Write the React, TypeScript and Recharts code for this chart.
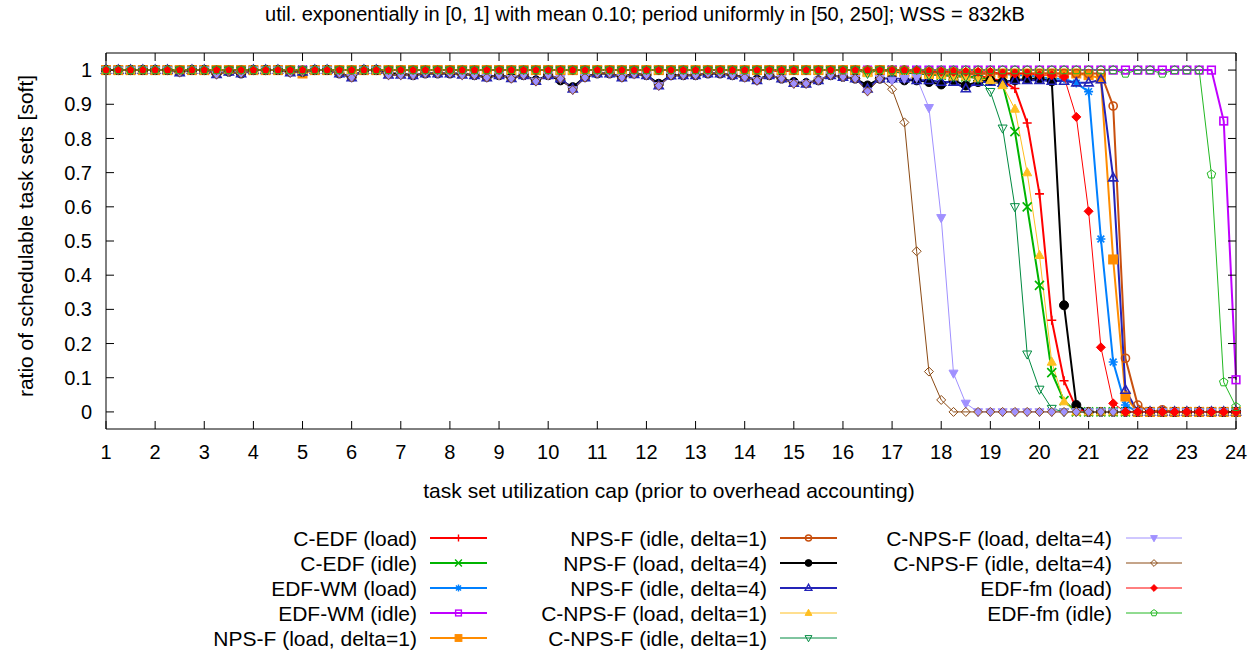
import { LineChart, Line, XAxis, YAxis } from 'recharts';

const FONT = '"Liberation Sans", Arial, Helvetica, sans-serif';

// x: task set utilization cap, sampled every 0.25
const utilCap = [
  1, 1.25, 1.5, 1.75, 2, 2.25, 2.5, 2.75, 3, 3.25, 3.5, 3.75,
  4, 4.25, 4.5, 4.75, 5, 5.25, 5.5, 5.75, 6, 6.25, 6.5, 6.75,
  7, 7.25, 7.5, 7.75, 8, 8.25, 8.5, 8.75, 9, 9.25, 9.5, 9.75,
  10, 10.25, 10.5, 10.75, 11, 11.25, 11.5, 11.75, 12, 12.25, 12.5, 12.75,
  13, 13.25, 13.5, 13.75, 14, 14.25, 14.5, 14.75, 15, 15.25, 15.5, 15.75,
  16, 16.25, 16.5, 16.75, 17, 17.25, 17.5, 17.75, 18, 18.25, 18.5, 18.75,
  19, 19.25, 19.5, 19.75, 20, 20.25, 20.5, 20.75, 21, 21.25, 21.5, 21.75,
  22, 22.25, 22.5, 22.75, 23, 23.25, 23.5, 23.75, 24,
];

const cedfLoad = [
  1, 1, 1, 1, 1, 1, 1, 1, 1, 1, 1, 1,
  1, 1, 1, 1, 1, 1, 1, 1, 1, 1, 1, 1,
  1, 1, 1, 1, 1, 1, 1, 1, 1, 1, 1, 1,
  1, 1, 1, 1, 1, 1, 1, 1, 1, 1, 1, 1,
  1, 1, 1, 1, 1, 1, 1, 0.995, 1, 1, 1, 1,
  1, 1, 0.995, 1, 1, 1, 0.995, 0.99, 0.99, 0.99, 0.99, 0.985,
  0.975, 0.968, 0.946, 0.845, 0.638, 0.268, 0.091, 0.01, 0, 0, 0, 0,
  0, 0, 0, 0, 0, 0, 0, 0, 0,
];

const cedfIdle = [
  1, 1, 1, 1, 1, 1, 1, 1, 1, 1, 1, 1,
  1, 1, 1, 1, 1, 1, 1, 1, 1, 1, 1, 1,
  1, 1, 1, 1, 1, 1, 1, 1, 1, 1, 1, 1,
  1, 1, 1, 1, 1, 1, 1, 1, 1, 1, 1, 1,
  1, 1, 1, 1, 1, 1, 1, 1, 1, 1, 1, 1,
  1, 1, 0.995, 1, 1, 0.995, 0.99, 0.99, 0.985, 0.985, 0.98, 0.98,
  0.97, 0.959, 0.82, 0.6, 0.37, 0.115, 0.033, 0, 0, 0, 0, 0,
  0, 0, 0, 0, 0, 0, 0, 0, 0,
];

const edfwmLoad = [
  1, 1, 1, 1, 1, 1, 1, 1, 1, 1, 1, 1,
  1, 1, 1, 1, 1, 1, 1, 1, 1, 1, 1, 1,
  1, 1, 1, 1, 1, 1, 1, 1, 1, 1, 1, 1,
  1, 1, 1, 1, 1, 1, 1, 1, 1, 1, 1, 1,
  1, 1, 1, 1, 1, 1, 1, 1, 1, 1, 1, 1,
  1, 1, 1, 1, 1, 0.995, 1, 0.995, 0.995, 0.99, 0.99, 0.99,
  0.99, 0.99, 0.985, 0.985, 0.98, 0.975, 0.975, 0.962, 0.937, 0.506, 0.146, 0.02,
  0, 0, 0, 0, 0, 0, 0, 0, 0,
];

const edfwmIdle = [
  1, 1, 1, 1, 1, 1, 1, 1, 1, 1, 1, 1,
  1, 1, 1, 1, 1, 1, 1, 1, 1, 1, 1, 1,
  1, 1, 1, 1, 1, 1, 1, 1, 1, 1, 1, 1,
  1, 1, 1, 1, 1, 1, 1, 1, 1, 1, 1, 1,
  1, 1, 1, 1, 1, 1, 1, 1, 1, 1, 1, 1,
  1, 1, 1, 1, 1, 1, 1, 1, 1, 1, 1, 1,
  1, 1, 1, 1, 1, 1, 1, 1, 1, 1, 1, 1,
  1, 1, 1, 1, 1, 1, 1, 0.851, 0.094,
];

const npsfLoad1 = [
  1, 1, 1, 1, 1, 1, 1, 1, 1, 1, 1, 1,
  1, 1, 1, 1, 0.99, 1, 1, 1, 1, 1, 1, 1,
  1, 1, 1, 1, 1, 1, 1, 1, 1, 1, 1, 1,
  1, 1, 1, 1, 1, 1, 1, 1, 1, 1, 1, 1,
  1, 1, 1, 1, 1, 1, 1, 1, 1, 1, 1, 1,
  1, 1, 0.995, 1, 0.995, 0.995, 0.99, 0.99, 0.99, 0.99, 0.99, 0.99,
  0.99, 0.99, 0.99, 0.99, 0.99, 0.99, 0.99, 0.99, 0.985, 0.976, 0.446, 0.045,
  0, 0, 0, 0, 0, 0, 0, 0, 0,
];

const npsfIdle1 = [
  1, 1, 1, 1, 1, 1, 1, 1, 1, 1, 1, 1,
  1, 1, 1, 1, 1, 1, 1, 1, 1, 1, 1, 1,
  1, 1, 1, 1, 1, 1, 1, 1, 1, 1, 1, 1,
  1, 1, 1, 1, 1, 1, 1, 1, 1, 1, 1, 1,
  1, 1, 1, 1, 1, 1, 1, 1, 1, 1, 1, 1,
  1, 1, 1, 1, 1, 1, 0.995, 0.995, 0.995, 0.995, 0.99, 0.99,
  0.99, 0.99, 0.99, 0.99, 0.99, 0.99, 0.99, 0.99, 0.99, 0.99, 0.895, 0.157,
  0.02, 0, 0.006, 0, 0, 0, 0, 0, 0,
];

const npsfLoad4 = [
  1, 1, 1, 1, 1, 1, 0.995, 1, 1, 0.99, 0.995, 0.99,
  1, 1, 1, 0.995, 0.995, 1, 1, 0.99, 0.98, 1, 1, 0.99,
  0.99, 0.985, 0.99, 0.99, 0.99, 0.99, 0.985, 0.98, 0.985, 0.978, 0.985, 0.97,
  0.985, 0.97, 0.95, 0.98, 0.99, 0.99, 0.98, 0.99, 0.985, 0.96, 0.985, 0.985,
  0.985, 0.99, 0.99, 0.985, 0.98, 0.972, 0.985, 0.975, 0.965, 0.962, 0.97, 0.985,
  0.98, 0.975, 0.955, 0.975, 0.975, 0.97, 0.97, 0.965, 0.958, 0.97, 0.955, 0.965,
  0.97, 0.965, 0.97, 0.975, 0.975, 0.967, 0.312, 0.02, 0, 0, 0, 0,
  0, 0, 0, 0, 0, 0, 0, 0, 0,
];

const npsfIdle4 = [
  1, 1, 1, 1, 1, 1, 0.993, 1, 1, 0.988, 0.995, 0.99,
  1, 1, 1, 0.993, 0.995, 1, 1, 0.99, 0.978, 1, 1, 0.986,
  0.986, 0.985, 0.99, 0.99, 0.99, 0.986, 0.985, 0.978, 0.985, 0.976, 0.985, 0.968,
  0.985, 0.975, 0.945, 0.978, 0.99, 0.99, 0.978, 0.988, 0.985, 0.955, 0.984, 0.985,
  0.985, 0.99, 0.99, 0.985, 0.978, 0.97, 0.985, 0.975, 0.962, 0.96, 0.97, 0.985,
  0.98, 0.975, 0.945, 0.975, 0.975, 0.975, 0.97, 0.97, 0.965, 0.965, 0.946, 0.965,
  0.965, 0.962, 0.97, 0.97, 0.97, 0.968, 0.968, 0.963, 0.963, 0.972, 0.685, 0.064,
  0, 0, 0, 0, 0, 0, 0, 0, 0,
];

const cnpsfLoad1 = [
  1, 1, 1, 1, 1, 1, 1, 1, 1, 1, 1, 1,
  1, 1, 1, 1, 1, 1, 1, 1, 1, 1, 1, 1,
  1, 1, 1, 1, 1, 1, 1, 1, 1, 1, 1, 1,
  1, 1, 1, 1, 1, 1, 1, 1, 1, 1, 1, 1,
  1, 1, 1, 1, 1, 1, 1, 1, 1, 1, 1, 1,
  1, 1, 0.99, 1, 0.995, 0.99, 0.99, 0.985, 0.985, 0.98, 0.98, 0.975,
  0.97, 0.955, 0.886, 0.7, 0.458, 0.146, 0.03, 0, 0, 0, 0, 0,
  0, 0, 0, 0, 0, 0, 0, 0, 0,
];

const cnpsfIdle1 = [
  1, 1, 1, 1, 1, 1, 1, 1, 1, 1, 1, 1,
  1, 1, 1, 1, 1, 1, 1, 1, 1, 1, 1, 1,
  1, 1, 1, 1, 1, 1, 1, 1, 1, 1, 1, 1,
  1, 1, 1, 1, 1, 1, 1, 1, 1, 1, 1, 1,
  1, 1, 1, 1, 1, 1, 1, 1, 1, 1, 1, 1,
  1, 1, 0.99, 1, 0.995, 0.99, 0.99, 0.985, 0.985, 0.98, 0.98, 0.975,
  0.937, 0.83, 0.6, 0.169, 0.066, 0.01, 0, 0, 0, 0, 0, 0,
  0, 0, 0, 0, 0, 0, 0, 0, 0,
];

const cnpsfLoad4 = [
  1, 1, 1, 1, 1, 1, 0.993, 1, 1, 0.987, 0.995, 0.99,
  1, 1, 1, 0.992, 0.995, 1, 1, 0.99, 0.978, 1, 1, 0.985,
  0.985, 0.985, 0.99, 0.99, 0.99, 0.985, 0.985, 0.978, 0.985, 0.975, 0.985, 0.967,
  0.985, 0.975, 0.942, 0.978, 0.99, 0.99, 0.978, 0.988, 0.985, 0.954, 0.984, 0.985,
  0.985, 0.99, 0.99, 0.985, 0.978, 0.969, 0.985, 0.975, 0.96, 0.96, 0.97, 0.985,
  0.98, 0.975, 0.938, 0.975, 0.97, 0.975, 0.978, 0.89, 0.568, 0.113, 0.025, 0,
  0, 0, 0, 0, 0, 0, 0, 0, 0, 0, 0, 0,
  0, 0, 0, 0, 0, 0, 0, 0, 0,
];

const cnpsfIdle4 = [
  1, 1, 1, 1, 1, 1, 0.993, 1, 1, 0.987, 0.995, 0.99,
  1, 1, 1, 0.992, 0.995, 1, 1, 0.99, 0.978, 1, 1, 0.985,
  0.985, 0.985, 0.99, 0.99, 0.99, 0.985, 0.985, 0.978, 0.985, 0.975, 0.985, 0.967,
  0.985, 0.975, 0.942, 0.978, 0.99, 0.99, 0.978, 0.988, 0.985, 0.954, 0.984, 0.985,
  0.985, 0.99, 0.99, 0.985, 0.978, 0.969, 0.985, 0.975, 0.96, 0.96, 0.97, 0.985,
  0.98, 0.975, 0.938, 0.974, 0.944, 0.847, 0.47, 0.118, 0.035, 0, 0, 0,
  0, 0, 0, 0, 0, 0, 0, 0, 0, 0, 0, 0,
  0, 0, 0, 0, 0, 0, 0, 0, 0,
];

const edffmLoad = [
  1, 1, 1, 1, 1, 1, 1, 1, 1, 1, 1, 1,
  1, 1, 1, 1, 1, 1, 1, 1, 1, 1, 1, 1,
  1, 1, 1, 1, 1, 1, 1, 1, 1, 1, 1, 1,
  1, 1, 1, 1, 1, 1, 1, 1, 1, 1, 1, 1,
  1, 1, 1, 1, 1, 1, 1, 1, 1, 1, 1, 1,
  1, 1, 1, 1, 1, 1, 1, 0.995, 0.995, 0.995, 0.995, 0.995,
  0.995, 0.99, 0.99, 0.99, 0.985, 0.985, 0.98, 0.863, 0.587, 0.189, 0.025, 0,
  0, 0, 0, 0, 0, 0, 0, 0, 0,
];

const edffmIdle = [
  1, 1, 1, 1, 1, 1, 1, 1, 1, 1, 1, 1,
  1, 1, 1, 1, 1, 1, 1, 1, 1, 1, 1, 1,
  1, 1, 1, 1, 1, 1, 1, 1, 1, 1, 1, 1,
  1, 1, 1, 1, 1, 1, 1, 1, 1, 1, 1, 1,
  1, 1, 1, 1, 1, 1, 1, 1, 1, 1, 1, 1,
  1, 1, 1, 1, 1, 1, 1, 1, 1, 1, 1, 1,
  1, 1, 1, 1, 1, 1, 1, 1, 1, 1, 1, 0.99,
  1, 1, 0.99, 1, 1, 1, 0.695, 0.087, 0.015,
];

const xTicks = [1, 2, 3, 4, 5, 6, 7, 8, 9, 10, 11, 12, 13, 14, 15, 16, 17, 18, 19, 20, 21, 22, 23, 24];
const yTicks = [0, 0.1, 0.2, 0.3, 0.4, 0.5, 0.6, 0.7, 0.8, 0.9, 1];

const series = [
  { key: 'cedfLoad', name: 'C-EDF (load)', values: cedfLoad, color: '#ff0000', shape: 'plus', width: 2 },
  { key: 'cedfIdle', name: 'C-EDF (idle)', values: cedfIdle, color: '#00b400', shape: 'cross', width: 2 },
  { key: 'edfwmLoad', name: 'EDF-WM (load)', values: edfwmLoad, color: '#0080ff', shape: 'star', width: 2 },
  { key: 'edfwmIdle', name: 'EDF-WM (idle)', values: edfwmIdle, color: '#c000ff', shape: 'square', width: 2 },
  { key: 'npsfLoad1', name: 'NPS-F (load, delta=1)', values: npsfLoad1, color: '#ff8c00', shape: 'squareFilled', width: 2 },
  { key: 'npsfIdle1', name: 'NPS-F (idle, delta=1)', values: npsfIdle1, color: '#c8500f', shape: 'circle', width: 2 },
  { key: 'npsfLoad4', name: 'NPS-F (load, delta=4)', values: npsfLoad4, color: '#000000', shape: 'circleFilled', width: 2 },
  { key: 'npsfIdle4', name: 'NPS-F (idle, delta=4)', values: npsfIdle4, color: '#2424b8', shape: 'triUp', width: 2 },
  { key: 'cnpsfLoad1', name: 'C-NPS-F (load, delta=1)', values: cnpsfLoad1, color: '#ffbf20', shape: 'triUpFilled', width: 1 },
  { key: 'cnpsfIdle1', name: 'C-NPS-F (idle, delta=1)', values: cnpsfIdle1, color: '#008a40', shape: 'triDown', width: 1 },
  { key: 'cnpsfLoad4', name: 'C-NPS-F (load, delta=4)', values: cnpsfLoad4, color: '#a090ff', shape: 'triDownFilled', width: 1 },
  { key: 'cnpsfIdle4', name: 'C-NPS-F (idle, delta=4)', values: cnpsfIdle4, color: '#8b4a14', shape: 'diamond', width: 1 },
  { key: 'edffmLoad', name: 'EDF-fm (load)', values: edffmLoad, color: '#ff0000', shape: 'diamondFilled', width: 1 },
  { key: 'edffmIdle', name: 'EDF-fm (idle)', values: edffmIdle, color: '#22b822', shape: 'pentagon', width: 1 },
];

const chartData = utilCap.map((x, i) => {
  const row: Record<string, number> = { x };
  series.forEach((s) => { row[s.key] = s.values[i]; });
  return row;
});

function Marker({ x, y, shape, color, sw, s }: { x: number; y: number; shape: string; color: string; sw: number; s: number }) {
  const open = { fill: 'none', stroke: color, strokeWidth: sw };
  const filled = { fill: color, stroke: color, strokeWidth: 1 };
  switch (shape) {
    case 'plus':
      return <path d={`M${x - s},${y}H${x + s}M${x},${y - s}V${y + s}`} {...open} />;
    case 'cross':
      return <path d={`M${x - s},${y - s}L${x + s},${y + s}M${x - s},${y + s}L${x + s},${y - s}`} {...open} />;
    case 'star':
      return <path d={`M${x - s},${y}H${x + s}M${x},${y - s}V${y + s}M${x - s * 0.75},${y - s * 0.75}L${x + s * 0.75},${y + s * 0.75}M${x - s * 0.75},${y + s * 0.75}L${x + s * 0.75},${y - s * 0.75}`} {...open} />;
    case 'square':
      return <rect x={x - s * 0.85} y={y - s * 0.85} width={s * 1.7} height={s * 1.7} {...open} />;
    case 'squareFilled':
      return <rect x={x - s} y={y - s} width={s * 2} height={s * 2} {...filled} />;
    case 'circle':
      return <circle cx={x} cy={y} r={s * 0.9} {...open} />;
    case 'circleFilled':
      return <circle cx={x} cy={y} r={s} {...filled} />;
    case 'triUp':
    case 'triUpFilled':
      return <polygon points={`${x},${y - s * 1.1} ${x - s},${y + s * 0.7} ${x + s},${y + s * 0.7}`} {...(shape === 'triUp' ? open : filled)} />;
    case 'triDown':
    case 'triDownFilled':
      return <polygon points={`${x},${y + s * 1.1} ${x - s},${y - s * 0.7} ${x + s},${y - s * 0.7}`} {...(shape === 'triDown' ? open : filled)} />;
    case 'diamond':
    case 'diamondFilled':
      return <polygon points={`${x},${y - s} ${x + s},${y} ${x},${y + s} ${x - s},${y}`} {...(shape === 'diamond' ? open : filled)} />;
    case 'pentagon': {
      const pts = [0, 1, 2, 3, 4].map((k) => {
        const a = (-90 + 72 * k) * Math.PI / 180;
        return `${x + s * Math.cos(a)},${y + s * Math.sin(a)}`;
      }).join(' ');
      return <polygon points={pts} {...open} />;
    }
    default:
      return null;
  }
}

const legendCols = [
  { textRight: 417, x1: 430, x2: 487 },
  { textRight: 767, x1: 780, x2: 837 },
  { textRight: 1112, x1: 1126, x2: 1182 },
];
const legendRows = [538, 563, 588, 613, 638];

const noLabel = () => '';

export default function App() {
  const tickStyle = { fill: '#000', fontSize: 20, fontFamily: FONT };
  return (
    <div style={{ position: 'absolute', left: 0, top: 0, width: 1258, height: 653, background: '#fff' }}>
      <LineChart width={1258} height={653} data={chartData} margin={{ top: 52, right: 21, bottom: 184, left: 0 }}>
        <XAxis dataKey="x" type="number" domain={[1, 24]} ticks={xTicks} stroke="#000" tickSize={-8} tickMargin={24} height={40} tick={tickStyle} interval={0} />
        <XAxis xAxisId="top" dataKey="x" orientation="top" type="number" domain={[1, 24]} allowDataOverflow ticks={xTicks} stroke="#000" tickSize={-8} height={1} tickFormatter={noLabel} interval={0} />
        <YAxis type="number" domain={[-0.05, 1.05]} ticks={yTicks} stroke="#000" tickSize={-8} tickMargin={22} width={106} tick={tickStyle} interval={0} />
        <YAxis yAxisId="right" orientation="right" type="number" domain={[-0.05, 1.05]} allowDataOverflow ticks={yTicks} stroke="#000" tickSize={-8} width={1} tickFormatter={noLabel} interval={0} />
        {/* invisible helper so the mirrored top/right axes have data */}
        <Line xAxisId="top" yAxisId="right" dataKey="edfwmIdle" stroke="none" dot={false} activeDot={false} legendType="none" isAnimationActive={false} />
        {series.map((s) => (
          <Line
            key={s.key}
            dataKey={s.key}
            name={s.name}
            type="linear"
            stroke={s.color}
            strokeWidth={s.width}
            isAnimationActive={false}
            activeDot={false}
            dot={(p: any) => (
              <Marker key={`${s.key}-${p.index}`} x={p.cx} y={p.cy} shape={s.shape} color={s.color} sw={s.width === 2 ? 1.6 : 1} s={4.5} />
            )}
          />
        ))}
      </LineChart>
      <svg width={1258} height={653} style={{ position: 'absolute', left: 0, top: 0, pointerEvents: 'none' }} fontFamily={FONT}>
        <text x={645} y={14} fontSize={20} textAnchor="middle" dominantBaseline="central">
          util. exponentially in [0, 1] with mean 0.10; period uniformly in [50, 250]; WSS = 832kB
        </text>
        <text x={669} y={490} fontSize={21} textAnchor="middle" dominantBaseline="central">
          task set utilization cap (prior to overhead accounting)
        </text>
        <text x={25} y={236} fontSize={21} textAnchor="middle" dominantBaseline="central" transform="rotate(-90 25 236)">
          ratio of schedulable task sets [soft]
        </text>
        {series.map((s, i) => {
          const col = legendCols[i < 5 ? 0 : i < 10 ? 1 : 2];
          const y = legendRows[i % 5];
          return (
            <g key={s.key}>
              <text x={col.textRight} y={y} fontSize={21} textAnchor="end" dominantBaseline="central">{s.name}</text>
              <line x1={col.x1} x2={col.x2} y1={y} y2={y} stroke={s.color} strokeWidth={s.width} />
              <Marker x={(col.x1 + col.x2) / 2} y={y} shape={s.shape} color={s.color} sw={s.width === 2 ? 1.4 : 1} s={3.4} />
            </g>
          );
        })}
      </svg>
    </div>
  );
}
